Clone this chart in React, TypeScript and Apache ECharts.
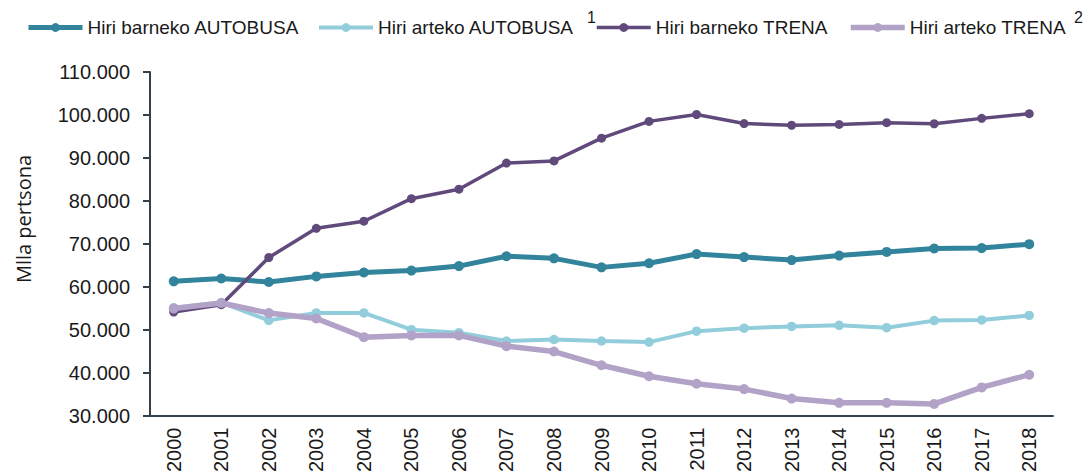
import React, { useEffect, useRef } from "react";
import * as echarts from "echarts";

const years = ["2000","2001","2002","2003","2004","2005","2006","2007","2008","2009","2010","2011","2012","2013","2014","2015","2016","2017","2018"];
const seriesNames = ["Hiri barneko AUTOBUSA", "Hiri arteko AUTOBUSA", "Hiri barneko TRENA", "Hiri arteko TRENA"];
const barnekoBus = [61250, 61900, 61100, 62400, 63300, 63750, 64800, 67100, 66600, 64500, 65450, 67600, 66900, 66200, 67250, 68100, 68900, 69000, 69900];
const artekoBus = [55100, 56300, 52150, 53900, 53900, 50000, 49300, 47350, 47700, 47350, 47100, 49650, 50350, 50750, 51000, 50450, 52100, 52250, 53300];
const barnekoTren = [54100, 55800, 66800, 73600, 75250, 80500, 82700, 88800, 89300, 94600, 98500, 100100, 98000, 97600, 97800, 98200, 97950, 99200, 100300];
const artekoTren = [54900, 56200, 53850, 52600, 48250, 48650, 48650, 46150, 44900, 41700, 39150, 37400, 36150, 33950, 32950, 32950, 32700, 36550, 39500];
const yAxisTitle = "Mlla pertsona";
const footnotes = ["1", "2"];

const colors = ["#31849b", "#92cddc", "#604a7b", "#b3a2c7"];
const widths = [5, 4, 3.5, 5.5];
const markerSizes = [10, 9.5, 9, 10];
const legendLefts = [26, 317, 595, 848];
const axisColor = "#34414b";
const textColor = "#1a1a1a";
const font = "'Liberation Sans', Arial, sans-serif";

function fmt(v: number): string {
  return String(v).replace(/\B(?=(\d{3})+(?!\d))/g, ".");
}

export default function App() {
  const ref = useRef<HTMLDivElement>(null);
  useEffect(() => {
    if (!ref.current) return;
    const chart = echarts.init(ref.current, undefined, { renderer: "svg" });
    const allData = [barnekoBus, artekoBus, barnekoTren, artekoTren];
    const option: any = {
      animation: false,
      backgroundColor: "#ffffff",
      grid: { left: 150, right: 32, top: 72, bottom: 59 },
      legend: seriesNames.map((n, i) => ({
        data: [n],
        left: legendLefts[i],
        top: 18,
        itemWidth: 54,
        itemHeight: 11,
        itemGap: 0,
        padding: 0,
        selectedMode: false,
        lineStyle: { width: widths[i] },
        textStyle: { fontFamily: font, fontSize: 19, color: textColor, padding: [0, 0, 0, 0] },
      })),
      xAxis: {
        type: "category",
        data: years,
        boundaryGap: true,
        axisLine: { show: true, lineStyle: { color: axisColor, width: 2 } },
        axisTick: { show: false },
        axisLabel: { rotate: 90, margin: 12, fontFamily: font, fontSize: 20, color: textColor },
        splitLine: { show: false },
      },
      yAxis: {
        type: "value",
        min: 30000,
        max: 110000,
        interval: 10000,
        axisLine: { show: true, lineStyle: { color: axisColor, width: 2 } },
        axisTick: { show: true, length: 7, lineStyle: { color: axisColor, width: 2 } },
        axisLabel: { margin: 20, fontFamily: font, fontSize: 20, color: textColor, formatter: (v: number) => fmt(v) },
        splitLine: { show: false },
      },
      graphic: [
        {
          type: "text",
          x: 23,
          y: 219,
          rotation: Math.PI / 2,
          style: { text: yAxisTitle, align: "center", verticalAlign: "middle", font: "20px 'Open Sans', sans-serif", fill: textColor },
        },
        {
          type: "text",
          left: 587,
          top: 9,
          style: { text: footnotes[0], font: "16px 'Liberation Sans', Arial, sans-serif", fill: textColor },
        },
        {
          type: "text",
          left: 1074,
          top: 9,
          style: { text: footnotes[1], font: "16px 'Liberation Sans', Arial, sans-serif", fill: textColor },
        },
      ],
      series: seriesNames.map((n, i) => ({
        name: n,
        type: "line",
        data: allData[i],
        symbol: "circle",
        symbolSize: markerSizes[i],
        lineStyle: { color: colors[i], width: widths[i] },
        itemStyle: { color: colors[i] },
        emphasis: { disabled: true },
        z: 2 + i,
      })),
    };
    chart.setOption(option);
    return () => chart.dispose();
  }, []);
  return <div ref={ref} style={{ position: "fixed", left: 0, top: 0, width: 1085, height: 475 }} />;
}
